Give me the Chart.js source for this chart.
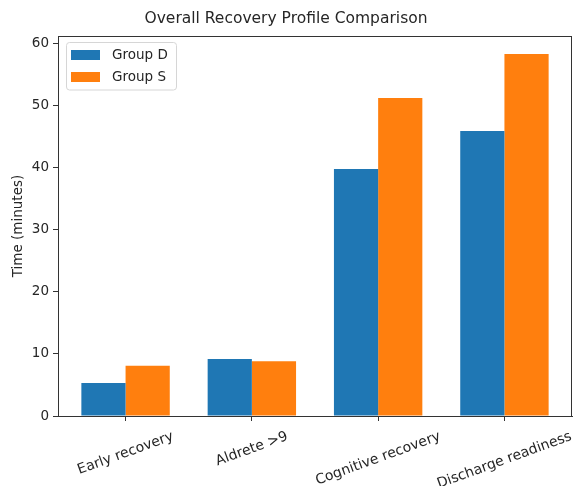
<!DOCTYPE html>
<html>
<head>
<meta charset="utf-8">
<script src="https://cdn.jsdelivr.net/npm/chart.js@4"></script>
<style>
  html, body { margin: 0; padding: 0; background: #fff; }
  #wrap { width: 575px; height: 486px; }
</style>
</head>
<body>
<div id="wrap"><canvas id="recoveryChart" width="575" height="486"></canvas></div>
<script>
const categories = ['Early recovery', 'Aldrete >9', 'Cognitive recovery', 'Discharge readiness'];
const groupD = [5.3, 9.2, 39.8, 45.9];
const groupS = [8.1, 8.8, 51.2, 58.3];
const yTicks = [0, 10, 20, 30, 40, 50, 60];

const FONT = "'DejaVu Sans', sans-serif";
const AXIS_COLOR = '#333';

// box round the plot + legend in the upper-left corner
const framePlugin = {
    id: 'frame',
    afterDatasetsDraw(chart) {
        const { ctx, chartArea: a } = chart;
        ctx.save();
        ctx.strokeStyle = AXIS_COLOR;
        ctx.lineWidth = 1;
        ctx.strokeRect(Math.round(a.left) + 0.5, Math.round(a.top) + 0.5,
            Math.round(a.right - a.left) - 1, Math.round(a.bottom - a.top));
        ctx.restore();
    },
    afterDraw(chart) {
        const { ctx, chartArea: a } = chart;
        const x0 = a.left + 8.5, y0 = a.top + 6.5;
        ctx.save();
        ctx.beginPath();
        ctx.roundRect(x0, y0, 110, 47.5, 3);
        ctx.fillStyle = 'rgba(255,255,255,0.8)';
        ctx.fill();
        ctx.strokeStyle = '#d6d6d6';
        ctx.lineWidth = 1;
        ctx.stroke();
        ctx.font = '13.5px ' + FONT;
        ctx.textBaseline = 'middle';
        ctx.textAlign = 'left';
        chart.data.datasets.forEach((ds, i) => {
            const yy = y0 + 7.5 + i * 22;
            ctx.fillStyle = ds.backgroundColor;
            ctx.fillRect(x0 + 4.5, yy, 29, 10);
            ctx.fillStyle = '#262626';
            ctx.fillText(ds.label, x0 + 45.5, yy + 5.5);
        });
        ctx.restore();
    }
};

// rotated category labels, centred under their ticks
const xLabelPlugin = {
    id: 'xLabels',
    afterDraw(chart) {
        const { ctx } = chart;
        const xs = chart.scales.x;
        const ang = 20 * Math.PI / 180;
        const top = chart.chartArea.bottom + 14;
        ctx.save();
        ctx.font = '14px ' + FONT;
        ctx.fillStyle = '#262626';
        ctx.textAlign = 'center';
        ctx.textBaseline = 'middle';
        categories.forEach((lab, i) => {
            const w = ctx.measureText(lab).width;
            const h = 13;
            const H = w * Math.sin(ang) + h * Math.cos(ang);
            const cx = xs.getPixelForValue(i);
            ctx.save();
            ctx.translate(cx, top + H / 2);
            ctx.rotate(-ang);
            ctx.fillText(lab, 0, 0);
            ctx.restore();
        });
        ctx.restore();
    }
};

const ctx = document.getElementById('recoveryChart').getContext('2d');

new Chart(ctx, {
    type: 'bar',
    data: {
        datasets: [
            {
                label: 'Group D',
                data: categories.map((c, i) => ({ x: i, y: groupD[i] })),
                backgroundColor: '#1f77b4',
            },
            {
                label: 'Group S',
                data: categories.map((c, i) => ({ x: i, y: groupS[i] })),
                backgroundColor: '#ff7f0e',
            },
        ],
    },
    options: {
        responsive: false,
        animation: false,
        devicePixelRatio: 1,
        layout: { padding: { left: 0, right: 3, top: 0, bottom: 0 } },
        categoryPercentage: 0.7,
        barPercentage: 1.0,
        plugins: {
            legend: { display: false },
            tooltip: { enabled: false },
            title: {
                display: true,
                text: 'Overall Recovery Profile Comparison',
                color: '#262626',
                font: { family: FONT, size: 15.5, weight: 'normal' },
                padding: { top: 10, bottom: 7.4 },
            },
        },
        scales: {
            x: {
                type: 'linear',
                offset: false,
                min: -0.535,
                max: 3.535,
                afterBuildTicks: scale => {
                    scale.ticks = categories.map((c, i) => ({ value: i }));
                },
                afterFit: scale => { scale.height = 70; },
                grid: {
                    offset: false,
                    drawOnChartArea: false,
                    drawTicks: true,
                    tickLength: 5,
                    color: AXIS_COLOR,
                },
                border: { display: true, color: AXIS_COLOR },
                ticks: { callback: () => '' },
            },
            y: {
                min: 0,
                max: 61.2,
                afterBuildTicks: scale => {
                    scale.ticks = yTicks.map(v => ({ value: v }));
                },
                afterFit: scale => { scale.width = 58; },
                grid: {
                    drawOnChartArea: false,
                    drawTicks: true,
                    tickLength: 5,
                    color: AXIS_COLOR,
                },
                border: { display: true, color: AXIS_COLOR },
                ticks: {
                    color: '#262626',
                    padding: 4,
                    font: { family: FONT, size: 13.5 },
                },
                title: {
                    display: true,
                    text: 'Time (minutes)',
                    color: '#262626',
                    font: { family: FONT, size: 13.5 },
                    padding: { top: 10, bottom: 4 },
                },
            },
        },
    },
    plugins: [framePlugin, xLabelPlugin],
});
</script>
</body>
</html>
